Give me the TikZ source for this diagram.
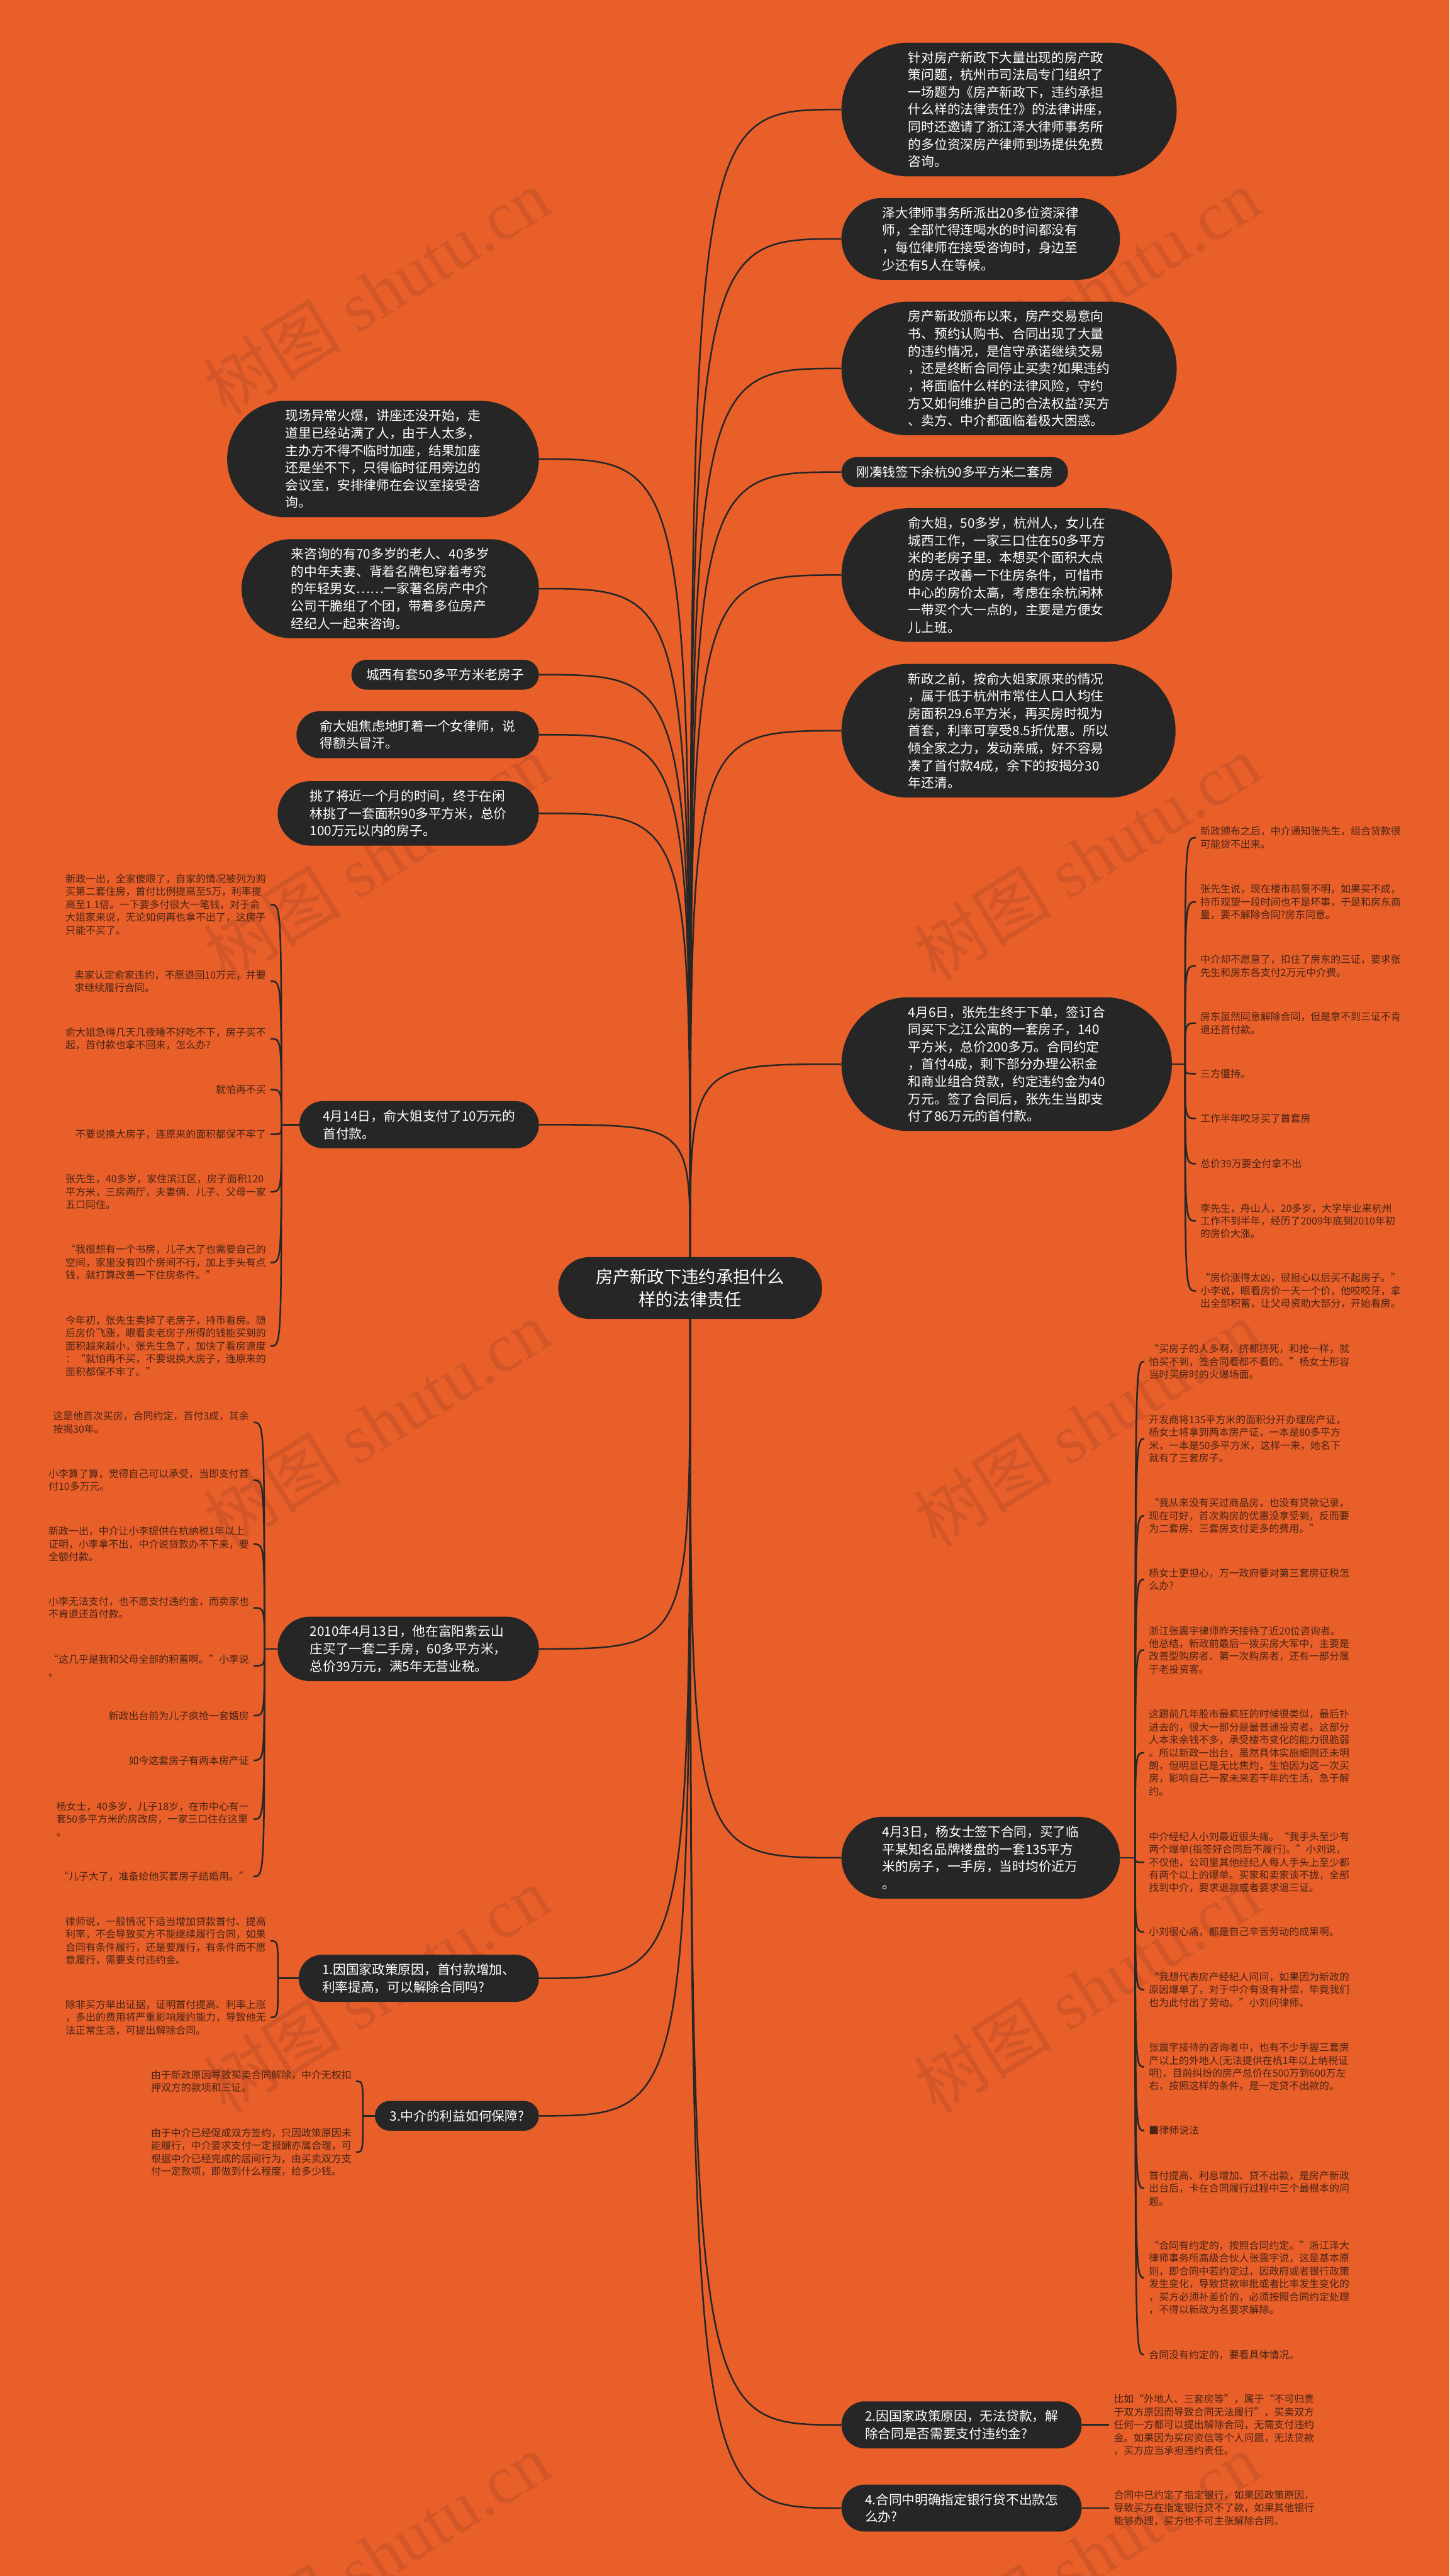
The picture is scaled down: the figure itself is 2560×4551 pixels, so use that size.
\documentclass[tikz,border=0pt]{standalone}
\usepackage{fontspec}
\setmainfont{Liberation Serif}
\newfontfamily\cjk{Noto Sans CJK SC}
\definecolor{bgc}{HTML}{E85F2A}
\definecolor{nodec}{HTML}{262626}
\definecolor{leafc}{HTML}{4A2414}
\definecolor{linec}{HTML}{262626}
\definecolor{wmc}{HTML}{D25628}
\tikzset{
  mnode/.style={fill=nodec, text=white, font=\cjk\fontsize{23}{30.7}\selectfont, align=left,
    rounded corners=#1, inner xsep=#1, inner ysep=0pt, minimum height=2*#1},
  leaf/.style={text=leafc, font=\cjk\fontsize{17.7}{22.7}\selectfont, align=left, inner xsep=8pt, inner ysep=0pt},
  link/.style={draw=linec, line width=2.8pt},
  wm/.style={text=wmc, font=\fontsize{122}{122}\selectfont, rotate=32, inner sep=0pt}
}
\begin{document}
\begin{tikzpicture}[x=1pt,y=-1pt]
\useasboundingbox (0,0) rectangle (2560,4551);
\fill[bgc] (0,0) rectangle (2560,4551);
% watermarks
\foreach \x/\y [count=\i] in {665/515,1920/515,665/1515,1920/1515,665/2515,1920/2515,665/3515,1920/3515,665/4515,1920/4515}
  \node[wm] (wm\i) at (\x,\y) {{\cjk 树图} shutu.cn};

% center
\node[fill=nodec, text=white, font=\cjk\fontsize{30.3}{39.5}\selectfont, align=center,
  minimum width=466pt, minimum height=109pt, rounded corners=54.5pt, inner sep=0pt] (ctr) at (1219,2275.5)
  {房产新政下违约承担什么\\样的法律责任};

% right top nodes
\node[mnode=118.1pt, anchor=west] (r1) at (1486,193.5) {针对房产新政下大量出现的房产政\\策问题，杭州市司法局专门组织了\\一场题为《房产新政下，违约承担\\什么样的法律责任?》的法律讲座，\\同时还邀请了浙江泽大律师事务所\\的多位资深房产律师到场提供免费\\咨询。};
\node[mnode=72.2pt, anchor=west] (r2) at (1486,422) {泽大律师事务所派出20多位资深律\\师，全部忙得连喝水的时间都没有\\，每位律师在接受咨询时，身边至\\少还有5人在等候。};
\node[mnode=118.1pt, anchor=west] (r3) at (1486,651) {房产新政颁布以来，房产交易意向\\书、预约认购书、合同出现了大量\\的违约情况，是信守承诺继续交易\\，还是终断合同停止买卖?如果违约\\，将面临什么样的法律风险，守约\\方又如何维护自己的合法权益?买方\\、卖方、中介都面临着极大困惑。};
\node[mnode=26.3pt, anchor=west] (r4) at (1486,834) {刚凑钱签下余杭90多平方米二套房};
\node[mnode=118.1pt, anchor=west] (r5) at (1486,1016) {俞大姐，50多岁，杭州人，女儿在\\城西工作，一家三口住在50多平方\\米的老房子里。本想买个面积大点\\的房子改善一下住房条件，可惜市\\中心的房价太高，考虑在余杭闲林\\一带买个大一点的，主要是方便女\\儿上班。};
\node[mnode=118.1pt, anchor=west] (r6) at (1486,1291) {新政之前，按俞大姐家原来的情况\\，属于低于杭州市常住人口人均住\\房面积29.6平方米，再买房时视为\\首套，利率可享受8.5折优惠。所以\\倾全家之力，发动亲戚，好不容易\\凑了首付款4成，余下的按揭分30\\年还清。};
\node[mnode=118.1pt, anchor=west] (apr6) at (1486,1880) {4月6日，张先生终于下单，签订合\\同买下之江公寓的一套房子，140\\平方米，总价200多万。合同约定\\，首付4成，剩下部分办理公积金\\和商业组合贷款，约定违约金为40\\万元。签了合同后，张先生当即支\\付了86万元的首付款。};
\node[mnode=72.2pt, anchor=west] (apr3) at (1486,3282) {4月3日，杨女士签下合同，买了临\\平某知名品牌楼盘的一套135平方\\米的房子，一手房，当时均价近万\\。};
\node[mnode=41.6pt, anchor=west] (q2) at (1486,4284) {2.因国家政策原因，无法贷款，解\\除合同是否需要支付违约金?};
\node[mnode=41.6pt, anchor=west] (q4) at (1486,4431) {4.合同中明确指定银行贷不出款怎\\么办?};

% left nodes
\node[mnode=102.8pt, anchor=east] (l1) at (952,811) {现场异常火爆，讲座还没开始，走\\道里已经站满了人，由于人太多，\\主办方不得不临时加座，结果加座\\还是坐不下，只得临时征用旁边的\\会议室，安排律师在会议室接受咨\\询。};
\node[mnode=87.5pt, anchor=east] (l2) at (952,1040) {来咨询的有70多岁的老人、40多岁\\的中年夫妻、背着名牌包穿着考究\\的年轻男女……一家著名房产中介\\公司干脆组了个团，带着多位房产\\经纪人一起来咨询。};
\node[mnode=26.3pt, anchor=east] (l3) at (952,1192) {城西有套50多平方米老房子};
\node[mnode=41.6pt, anchor=east] (l4) at (952,1298) {俞大姐焦虑地盯着一个女律师，说\\得额头冒汗。};
\node[mnode=56.9pt, anchor=east] (l5) at (952,1437) {挑了将近一个月的时间，终于在闲\\林挑了一套面积90多平方米，总价\\100万元以内的房子。};
\node[mnode=41.6pt, anchor=east] (apr14) at (952,1987) {4月14日，俞大姐支付了10万元的\\首付款。};
\node[mnode=56.9pt, anchor=east] (n2010) at (952,2913) {2010年4月13日，他在富阳紫云山\\庄买了一套二手房，60多平方米，\\总价39万元，满5年无营业税。};
\node[mnode=41.6pt, anchor=east] (q1) at (952,3495) {1.因国家政策原因，首付款增加、\\利率提高，可以解除合同吗?};
\node[mnode=26.3pt, anchor=east] (q3) at (952,3738) {3.中介的利益如何保障?};

% Apr14 leaves
\node[leaf, anchor=east] (a1) at (478,1598) {新政一出，全家傻眼了，自家的情况被列为购\\买第二套住房，首付比例提高至5万，利率提\\高至1.1倍。一下要多付很大一笔钱，对于俞\\大姐家来说，无论如何再也拿不出了，这房子\\只能不买了。};
\node[leaf, anchor=east] (a2) at (478,1733.5) {卖家认定俞家违约，不愿退回10万元，并要\\求继续履行合同。};
\node[leaf, anchor=east] (a3) at (478,1835) {俞大姐急得几天几夜睡不好吃不下，房子买不\\起，首付款也拿不回来，怎么办?};
\node[leaf, anchor=east] (a4) at (478,1925) {就怕再不买};
\node[leaf, anchor=east] (a5) at (478,2004) {不要说换大房子，连原来的面积都保不牢了};
\node[leaf, anchor=east] (a6) at (478,2105.5) {张先生，40多岁，家住滨江区，房子面积120\\平方米，三房两厅，夫妻俩、儿子、父母一家\\五口同住。};
\node[leaf, anchor=east] (a7) at (478,2230.5) {“我很想有一个书房，儿子大了也需要自己的\\空间，家里没有四个房间不行，加上手头有点\\钱，就打算改善一下住房条件。”};
\node[leaf, anchor=east] (a8) at (478,2378) {今年初，张先生卖掉了老房子，持币看房。随\\后房价飞涨，眼看卖老房子所得的钱能买到的\\面积越来越小，张先生急了，加快了看房速度\\：“就怕再不买，不要说换大房子，连原来的\\面积都保不牢了。”};

% Apr6 leaves
\node[leaf, anchor=west] (c1) at (2112,1480) {新政颁布之后，中介通知张先生，组合贷款很\\可能贷不出来。};
\node[leaf, anchor=west] (c2) at (2112,1593.5) {张先生说，现在楼市前景不明，如果买不成，\\持币观望一段时间也不是坏事，于是和房东商\\量，要不解除合同?房东同意。};
\node[leaf, anchor=west] (c3) at (2112,1706.5) {中介却不愿意了，扣住了房东的三证，要求张\\先生和房东各支付2万元中介费。};
\node[leaf, anchor=west] (c4) at (2112,1807.5) {房东虽然同意解除合同，但是拿不到三证不肯\\退还首付款。};
\node[leaf, anchor=west] (c5) at (2112,1897) {三方僵持。};
\node[leaf, anchor=west] (c6) at (2112,1976) {工作半年咬牙买了首套房};
\node[leaf, anchor=west] (c7) at (2112,2056) {总价39万要全付拿不出};
\node[leaf, anchor=west] (c8) at (2112,2157) {李先生，舟山人，20多岁，大学毕业来杭州\\工作不到半年，经历了2009年底到2010年初\\的房价大涨。};
\node[leaf, anchor=west] (c9) at (2112,2280.5) {“房价涨得太凶，很担心以后买不起房子。”\\小李说，眼看房价一天一个价，他咬咬牙，拿\\出全部积蓄，让父母资助大部分，开始看房。};

% 2010 leaves
\node[leaf, anchor=east] (d1) at (448,2513) {这是他首次买房，合同约定，首付3成，其余\\按揭30年。};
\node[leaf, anchor=east] (d2) at (448,2615) {小李算了算，觉得自己可以承受，当即支付首\\付10多万元。};
\node[leaf, anchor=east] (d3) at (448,2728) {新政一出，中介让小李提供在杭纳税1年以上\\证明，小李拿不出，中介说贷款办不下来，要\\全额付款。};
\node[leaf, anchor=east] (d4) at (448,2840.5) {小李无法支付，也不愿支付违约金，而卖家也\\不肯退还首付款。};
\node[leaf, anchor=east] (d5) at (448,2943) {“这几乎是我和父母全部的积蓄啊。”小李说\\。};
\node[leaf, anchor=east] (d6) at (448,3031) {新政出台前为儿子疯抢一套婚房};
\node[leaf, anchor=east] (d7) at (448,3110) {如今这套房子有两本房产证};
\node[leaf, anchor=east] (d8) at (448,3214) {杨女士，40多岁，儿子18岁，在市中心有一\\套50多平方米的房改房，一家三口住在这里\\。};
\node[leaf, anchor=east] (d9) at (448,3315) {“儿子大了，准备给他买套房子结婚用。”};

% Apr3 leaves
\node[leaf, anchor=west] (b1) at (2021,2405.5) {“买房子的人多啊，挤都挤死，和抢一样，就\\怕买不到，签合同看都不看的。”杨女士形容\\当时买房时的火爆场面。};
\node[leaf, anchor=west] (b2) at (2021,2542) {开发商将135平方米的面积分开办理房产证，\\杨女士将拿到两本房产证，一本是80多平方\\米，一本是50多平方米，这样一来，她名下\\就有了三套房子。};
\node[leaf, anchor=west] (b3) at (2021,2678) {“我从来没有买过商品房，也没有贷款记录，\\现在可好，首次购房的优惠没享受到，反而要\\为二套房、三套房支付更多的费用。”};
\node[leaf, anchor=west] (b4) at (2021,2790.5) {杨女士更担心，万一政府要对第三套房征税怎\\么办?};
\node[leaf, anchor=west] (b5) at (2021,2915) {浙江张震宇律师昨天接待了近20位咨询者。\\他总结，新政前最后一拨买房大军中，主要是\\改善型购房者、第一次购房者，还有一部分属\\于老投资客。};
\node[leaf, anchor=west] (b6) at (2021,3096.5) {这跟前几年股市最疯狂的时候很类似，最后扑\\进去的，很大一部分是最普通投资者。这部分\\人本来余钱不多，承受楼市变化的能力很脆弱\\。所以新政一出台，虽然具体实施细则还未明\\朗，但明显已是无比焦灼，生怕因为这一次买\\房，影响自己一家未来若干年的生活，急于解\\约。};
\node[leaf, anchor=west] (b7) at (2021,3290) {中介经纪人小刘最近很头痛。“我手头至少有\\两个爆单(指签好合同后不履行)。”小刘说，\\不仅他，公司里其他经纪人每人手头上至少都\\有两个以上的爆单。买家和卖家谈不拢，全部\\找到中介，要求退款或者要求退三证。};
\node[leaf, anchor=west] (b8) at (2021,3413) {小刘很心痛，都是自己辛苦劳动的成果啊。};
\node[leaf, anchor=west] (b9) at (2021,3515) {“我想代表房产经纪人问问，如果因为新政的\\原因爆单了，对于中介有没有补偿，毕竟我们\\也为此付出了劳动。”小刘问律师。};
\node[leaf, anchor=west] (b10) at (2021,3651.5) {张震宇接待的咨询者中，也有不少手握三套房\\产以上的外地人(无法提供在杭1年以上纳税证\\明)，目前纠纷的房产总价在500万到600万左\\右，按照这样的条件，是一定贷不出款的。};
\node[leaf, anchor=west] (b11) at (2021,3764) {■律师说法};
\node[leaf, anchor=west] (b12) at (2021,3866) {首付提高、利息增加、贷不出款，是房产新政\\出台后，卡在合同履行过程中三个最根本的问\\题。};
\node[leaf, anchor=west] (b13) at (2021,4024) {“合同有约定的，按照合同约定。”浙江泽大\\律师事务所高级合伙人张震宇说，这是基本原\\则，即合同中若约定过，因政府或者银行政策\\发生变化，导致贷款审批或者比率发生变化的\\，买方必须补差价的，必须按照合同约定处理\\，不得以新政为名要求解除。};
\node[leaf, anchor=west] (b14) at (2021,4160) {合同没有约定的，要看具体情况。};

% Q1 / Q3 leaves
\node[leaf, anchor=east] (e1) at (478,3429) {律师说，一般情况下适当增加贷款首付、提高\\利率，不会导致买方不能继续履行合同，如果\\合同有条件履行，还是要履行，有条件而不愿\\意履行，需要支付违约金。};
\node[leaf, anchor=east] (e2) at (478,3564) {除非买方举出证据，证明首付提高、利率上涨\\，多出的费用将严重影响履约能力，导致他无\\法正常生活，可提出解除合同。};
\node[leaf, anchor=east] (f1) at (629,3677) {由于新政原因导致买卖合同解除，中介无权扣\\押双方的款项和三证。};
\node[leaf, anchor=east] (f2) at (629,3802) {由于中介已经促成双方签约，只因政策原因未\\能履行，中介要求支付一定报酬亦属合理，可\\根据中介已经完成的居间行为，由买卖双方支\\付一定款项，即做到什么程度，给多少钱。};

% Q2 / Q4 leaves
\node[leaf, anchor=west] (g1) at (1959,4284) {比如“外地人、三套房等”，属于“不可归责\\于双方原因而导致合同无法履行”，买卖双方\\任何一方都可以提出解除合同，无需支付违约\\金。如果因为买房资信等个人问题，无法贷款\\，买方应当承担违约责任。};
\node[leaf, anchor=west] (g2) at (1959,4431) {合同中已约定了指定银行，如果因政策原因，\\导致买方在指定银行贷不了款，如果其他银行\\能够办理，买方也不可主张解除合同。};

% trunk connectors
\foreach \n in {r1,r2,r3,r4,r5,r6,apr6}
  \draw[link] (ctr.north) .. controls (ctr.north |- \n.west) .. (\n.west);
\foreach \n in {l1,l2,l3,l4,l5,apr14}
  \draw[link] (ctr.north) .. controls (ctr.north |- \n.east) .. (\n.east);
\foreach \n in {apr3,q2,q4}
  \draw[link] (ctr.south) .. controls (ctr.south |- \n.west) .. (\n.west);
\foreach \n in {n2010,q1,q3}
  \draw[link] (ctr.south) .. controls (ctr.south |- \n.east) .. (\n.east);

% branch points
\coordinate (k14) at (497,1987);
\coordinate (k6) at (2093,1880);
\coordinate (k2010) at (467,2913);
\coordinate (k3) at (2005,3282);
\coordinate (kq1) at (491,3495);
\coordinate (kq3) at (641,3738);

\draw[link] (apr14.west) -- (k14);
\draw[link] (apr6.east) -- (k6);
\draw[link] (n2010.west) -- (k2010);
\draw[link] (apr3.east) -- (k3);
\draw[link] (q1.west) -- (kq1);
\draw[link] (q3.west) -- (kq3);
\draw[link] (q2.east) -- (g1.west);
\draw[link] (q4.east) -- (g2.west);

\foreach \n in {a1,a2,a3,a4,a5,a6,a7,a8}
  \draw[link] (k14) .. controls (k14 |- \n.east) .. (\n.east);
\foreach \n in {c1,c2,c3,c4,c5,c6,c7,c8,c9}
  \draw[link] (k6) .. controls (k6 |- \n.west) .. (\n.west);
\foreach \n in {d1,d2,d3,d4,d5,d6,d7,d8,d9}
  \draw[link] (k2010) .. controls (k2010 |- \n.east) .. (\n.east);
\foreach \n in {b1,b2,b3,b4,b5,b6,b7,b8,b9,b10,b11,b12,b13,b14}
  \draw[link] (k3) .. controls (k3 |- \n.west) .. (\n.west);
\foreach \n in {e1,e2}
  \draw[link] (kq1) .. controls (kq1 |- \n.east) .. (\n.east);
\foreach \n in {f1,f2}
  \draw[link] (kq3) .. controls (kq3 |- \n.east) .. (\n.east);
\end{tikzpicture}
\end{document}
